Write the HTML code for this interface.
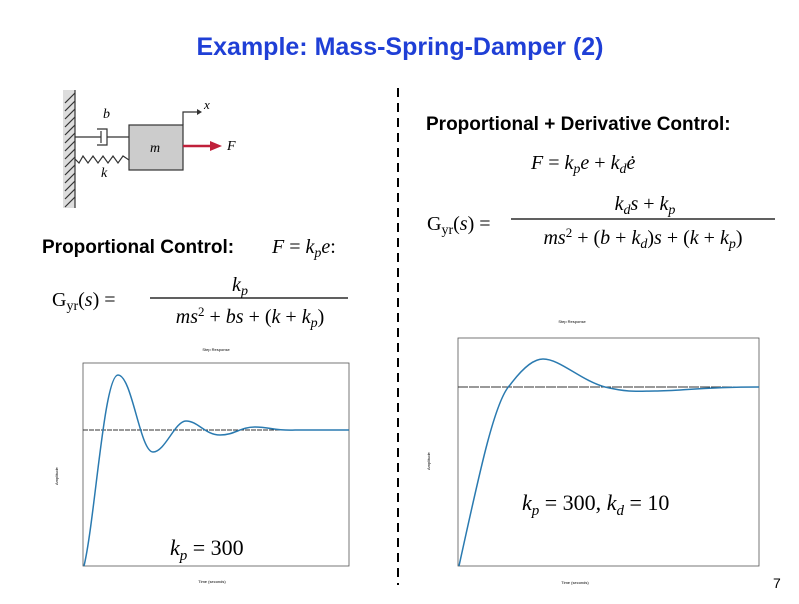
<!DOCTYPE html>
<html><head><style>
body{margin:0;width:799px;height:599px;background:#fff;overflow:hidden;font-family:"Liberation Sans",sans-serif}
</style></head><body>
<svg width="799" height="599" xmlns="http://www.w3.org/2000/svg">
<text x="400" y="55" text-anchor="middle" font-family="Liberation Sans" font-weight="bold" font-size="25" fill="#1f3fd6">Example: Mass-Spring-Damper (2)</text>
<line x1="398" y1="88" x2="398" y2="585" stroke="#000" stroke-width="2" stroke-dasharray="9,6"/>
<rect x="63" y="90" width="12" height="118" fill="#ddd"/>
<g stroke="#333" stroke-width="1.2">
<line x1="75" y1="90" x2="75" y2="208"/>
<line x1="75" y1="93" x2="65" y2="103"/><line x1="75" y1="101" x2="65" y2="111"/><line x1="75" y1="109" x2="65" y2="119"/><line x1="75" y1="117" x2="65" y2="127"/><line x1="75" y1="125" x2="65" y2="135"/><line x1="75" y1="133" x2="65" y2="143"/><line x1="75" y1="141" x2="65" y2="151"/><line x1="75" y1="149" x2="65" y2="159"/><line x1="75" y1="157" x2="65" y2="167"/><line x1="75" y1="165" x2="65" y2="175"/><line x1="75" y1="173" x2="65" y2="183"/><line x1="75" y1="181" x2="65" y2="191"/><line x1="75" y1="189" x2="65" y2="199"/><line x1="75" y1="197" x2="65" y2="207"/>
<line x1="75" y1="137" x2="101" y2="137"/><line x1="101" y1="131" x2="101" y2="143"/>
<polyline points="97,129 107,129 107,145 97,145" fill="none"/>
<line x1="107" y1="137" x2="129" y2="137"/>
<polyline points="75,159 79,163 83,156 88,163 93,156 98,163 103,156 108,163 113,156 118,163 123,156 129,160" fill="none"/>
<polyline points="183,125 183,112 197,112" fill="none"/>
</g>
<polygon points="197,109 202,112 197,115" fill="#333"/>
<rect x="129" y="125" width="54" height="45" fill="#ccc" stroke="#333" stroke-width="1.2"/>
<text x="150" y="152" font-family="Liberation Serif" font-style="italic" font-size="14">m</text>
<text x="103" y="118" font-family="Liberation Serif" font-style="italic" font-size="14">b</text>
<text x="101" y="177" font-family="Liberation Serif" font-style="italic" font-size="14">k</text>
<text x="204" y="109" font-family="Liberation Serif" font-style="italic" font-size="13">x</text>
<text x="227" y="150" font-family="Liberation Serif" font-style="italic" font-size="14">F</text>
<line x1="183" y1="146" x2="212" y2="146" stroke="#c0203a" stroke-width="2.5"/>
<polygon points="210,141 222,146 210,151" fill="#c0203a"/>
<text x="42" y="253" font-size="19" font-weight="bold" font-family="Liberation Sans">Proportional Control:</text>
<text x="272" y="253" font-size="20" font-family="Liberation Serif"><tspan font-style="italic">F</tspan> = <tspan font-style="italic">k</tspan><tspan font-size="14" dy="4" font-style="italic">p</tspan><tspan dy="-4" font-style="italic">e</tspan>:</text>
<text x="52" y="306" font-size="20" font-family="Liberation Serif">G<tspan font-size="14" dy="4">yr</tspan><tspan dy="-4">(</tspan><tspan font-style="italic">s</tspan>) =</text>
<text x="240" y="291" font-size="20" font-family="Liberation Serif" text-anchor="middle"><tspan font-style="italic">k</tspan><tspan font-size="14" dy="4" font-style="italic">p</tspan></text>
<line x1="150" y1="298" x2="348" y2="298" stroke="#000" stroke-width="1.3"/>
<text x="250" y="323" font-size="20" font-family="Liberation Serif" text-anchor="middle"><tspan font-style="italic">ms</tspan><tspan font-size="13" dy="-7">2</tspan><tspan dy="7"> + </tspan><tspan font-style="italic">bs</tspan> + (<tspan font-style="italic">k</tspan> + <tspan font-style="italic">k</tspan><tspan font-size="14" dy="4" font-style="italic">p</tspan><tspan dy="-4">)</tspan></text>
<text x="426" y="130" font-size="19" font-weight="bold" font-family="Liberation Sans">Proportional + Derivative Control:</text>
<text x="531" y="169" font-size="20" font-family="Liberation Serif"><tspan font-style="italic">F</tspan> = <tspan font-style="italic">k</tspan><tspan font-size="14" dy="4" font-style="italic">p</tspan><tspan dy="-4" font-style="italic">e</tspan> + <tspan font-style="italic">k</tspan><tspan font-size="14" dy="4" font-style="italic">d</tspan><tspan dy="-4" font-style="italic">ė</tspan></text>
<text x="427" y="230" font-size="20" font-family="Liberation Serif">G<tspan font-size="14" dy="4">yr</tspan><tspan dy="-4">(</tspan><tspan font-style="italic">s</tspan>) =</text>
<text x="645" y="210" font-size="20" font-family="Liberation Serif" text-anchor="middle"><tspan font-style="italic">k</tspan><tspan font-size="14" dy="4" font-style="italic">d</tspan><tspan dy="-4" font-style="italic">s</tspan> + <tspan font-style="italic">k</tspan><tspan font-size="14" dy="4" font-style="italic">p</tspan></text>
<line x1="511" y1="219" x2="775" y2="219" stroke="#000" stroke-width="1.3"/>
<text x="643" y="244" font-size="20" font-family="Liberation Serif" text-anchor="middle"><tspan font-style="italic">ms</tspan><tspan font-size="13" dy="-7">2</tspan><tspan dy="7"> + (</tspan><tspan font-style="italic">b</tspan> + <tspan font-style="italic">k</tspan><tspan font-size="14" dy="4" font-style="italic">d</tspan><tspan dy="-4">)</tspan><tspan font-style="italic">s</tspan> + (<tspan font-style="italic">k</tspan> + <tspan font-style="italic">k</tspan><tspan font-size="14" dy="4" font-style="italic">p</tspan><tspan dy="-4">)</tspan></text>
<text x="216" y="351" font-size="4" text-anchor="middle">Step Response</text>
<rect x="83" y="363" width="266" height="203" fill="none" stroke="#555" stroke-width="0.8"/>
<line x1="83" y1="430" x2="349" y2="430" stroke="#333" stroke-width="1" stroke-dasharray="5,1"/>
<path d="M84,566 C95,520 104,375 118,375 C132,375 140,452 153,452 C165,452 175,421 186,421 C198,421 205,435 220,435 C235,435 240,427 255,427 C270,427 275,431 295,430 L349,430" fill="none" stroke="#2a7ab0" stroke-width="1.5"/>
<text x="58" y="485" font-size="4" transform="rotate(-90 58 485)">Amplitude</text>
<text x="170" y="555" font-size="22" font-family="Liberation Serif"><tspan font-style="italic">k</tspan><tspan font-size="15" dy="5" font-style="italic">p</tspan><tspan dy="-5"> = 300</tspan></text>
<text x="572" y="323" font-size="4" text-anchor="middle">Step Response</text>
<rect x="458" y="338" width="301" height="228" fill="none" stroke="#555" stroke-width="0.8"/>
<line x1="458" y1="387" x2="759" y2="387" stroke="#333" stroke-width="1" stroke-dasharray="10,1"/>
<path d="M459,566 C480,470 495,400 510,385 C525,365 535,359 543,359 C560,359 580,380 605,387 C630,393 640,391 655,391 C680,391 700,387 759,387" fill="none" stroke="#2a7ab0" stroke-width="1.5"/>
<text x="430" y="470" font-size="4" transform="rotate(-90 430 470)">Amplitude</text>
<text x="575" y="584" font-size="4" text-anchor="middle">Time (seconds)</text>
<text x="522" y="510" font-size="22" font-family="Liberation Serif"><tspan font-style="italic">k</tspan><tspan font-size="15" dy="5" font-style="italic">p</tspan><tspan dy="-5"> = 300, </tspan><tspan font-style="italic">k</tspan><tspan font-size="15" dy="5" font-style="italic">d</tspan><tspan dy="-5"> = 10</tspan></text>
<text x="212" y="583" font-size="4" text-anchor="middle">Time (seconds)</text>
<text x="773" y="588" font-size="14" font-family="Liberation Sans">7</text>
</svg>
</body></html>
